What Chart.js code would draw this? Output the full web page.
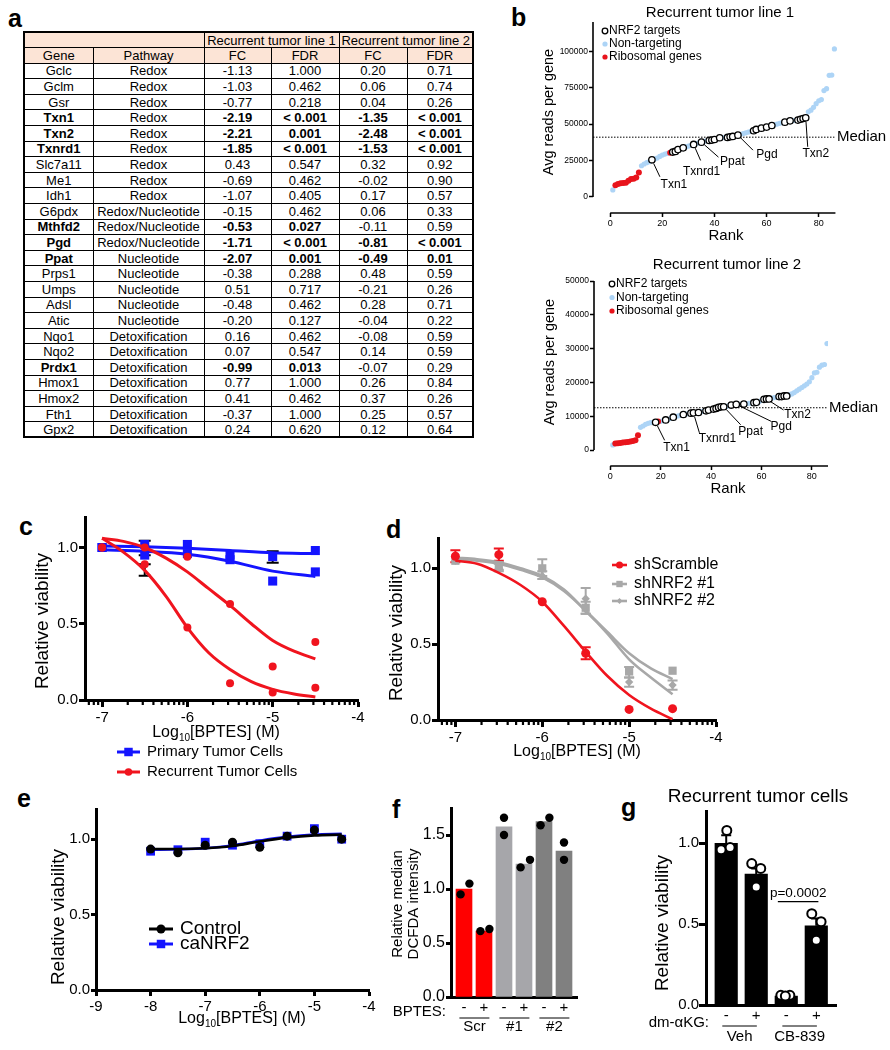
<!DOCTYPE html>
<html>
<head>
<meta charset="utf-8">
<script src="https://cdn.jsdelivr.net/npm/chart.js@4.4.1/dist/chart.umd.min.js"></script>
<style>
  body { margin: 0; background: #fff; font-family: "Liberation Sans", Arial, Helvetica, sans-serif; }
  #page { position: relative; width: 890px; height: 1050px; overflow: hidden; }
  .pl { position: absolute; font-weight: bold; font-size: 25px; line-height: 25px; }
  #tbl { position: absolute; left: 23px; top: 31px; border-collapse: collapse; table-layout: fixed; width: 449px; border: 2px solid #000; font-size: 13px; }
  #tbl tr { height: 15.6px; }
  #tbl td { border: 1px solid #000; padding: 0; line-height: 13px; text-align: center; white-space: nowrap; overflow: hidden; }
  #tbl tr.h td { background: #fce4d6; }
</style>
</head>
<body>
<div id="page">
  <table id="tbl"></table>
  <div class="pl" style="left:8px;top:6px">a</div>
  <div class="pl" style="left:511px;top:5px">b</div>
  <div class="pl" style="left:19px;top:514px">c</div>
  <div class="pl" style="left:386px;top:517px">d</div>
  <div class="pl" style="left:17px;top:786px">e</div>
  <div class="pl" style="left:392px;top:797px">f</div>
  <div class="pl" style="left:621px;top:795px">g</div>
</div>
<script>
// ---------- a: table ----------
const genes = ['Gclc','Gclm','Gsr','Txn1','Txn2','Txnrd1','Slc7a11','Me1','Idh1','G6pdx','Mthfd2','Pgd','Ppat','Prps1','Umps','Adsl','Atic','Nqo1','Nqo2','Prdx1','Hmox1','Hmox2','Fth1','Gpx2'];
const pathways = ['Redox','Redox','Redox','Redox','Redox','Redox','Redox','Redox','Redox','Redox/Nucleotide','Redox/Nucleotide','Redox/Nucleotide','Nucleotide','Nucleotide','Nucleotide','Nucleotide','Nucleotide','Detoxification','Detoxification','Detoxification','Detoxification','Detoxification','Detoxification','Detoxification'];
const fc1 = ['-1.13','-1.03','-0.77','-2.19','-2.21','-1.85','0.43','-0.69','-1.07','-0.15','-0.53','-1.71','-2.07','-0.38','0.51','-0.48','-0.20','0.16','0.07','-0.99','0.77','0.41','-0.37','0.24'];
const fdr1 = ['1.000','0.462','0.218','< 0.001','0.001','< 0.001','0.547','0.462','0.405','0.462','0.027','< 0.001','0.001','0.288','0.717','0.462','0.127','0.462','0.547','0.013','1.000','0.462','1.000','0.620'];
const fc2 = ['0.20','0.06','0.04','-1.35','-2.48','-1.53','0.32','-0.02','0.17','0.06','-0.11','-0.81','-0.49','0.48','-0.21','0.28','-0.04','-0.08','0.14','-0.07','0.26','0.37','0.25','0.12'];
const fdr2 = ['0.71','0.74','0.26','< 0.001','< 0.001','< 0.001','0.92','0.90','0.57','0.33','0.59','< 0.001','0.01','0.59','0.26','0.71','0.22','0.59','0.59','0.29','0.84','0.26','0.57','0.64'];
const sigLine1 = ['Txn1','Txn2','Txnrd1','Mthfd2','Pgd','Ppat','Prdx1'];
const sigLine2 = ['Txn1','Txn2','Txnrd1','Pgd','Ppat'];

// ---------- b: screen rank plots ----------
const b1NrfRank = [16,24,25,26,28,32,35,38,39,40,42,45,46,47,49,55,56,58,60,62,67,69,72,73,74,75];
const b1NrfVal = [25500,30800,31200,32500,33700,36000,37600,38800,39000,39400,40600,40800,41300,41500,42400,45400,46300,47200,47900,49000,51300,52200,52700,53300,53800,54300];
const b1RiboRank = [2,3,4,5,6,7,8,9,10,11,23];
const b1RiboVal = [8000,8900,9350,9600,9800,11200,12300,12500,13400,16700,30300];
const b1NtRank = [1,12,13,14,15,17,18,19,20,21,22,27,29,30,31,33,34,36,37,41,43,44,48,50,51,52,53,54,57,59,61,63,64,65,66,68,70,71,76,77,78,79,80,81,82,83,84,85,86];
const b1NtVal = [4800,21400,22600,23500,24200,26000,26700,27800,28700,29400,29900,33000,34300,34900,35500,36600,37100,38200,38500,40000,40700,40750,42000,43000,43500,44000,44500,45000,46700,47500,48600,49500,50000,50500,51000,51800,52400,52600,58400,59500,61500,64000,66000,66800,73000,74300,83400,83600,101500];
const b1Median = 41000;
const b1LabelNames = ['Txn1','Txnrd1','Ppat','Pgd','Txn2'];
const b1LabelRanks = [16,32,35,49,75];

const b2NrfRank = [18,22,25,29,32,33,35,38,39,41,42,43,44,45,48,50,53,57,58,61,62,63,67,68,69,70];
const b2NrfVal = [8200,8900,9700,10500,10900,11000,11100,11600,11800,12100,12300,12600,12800,12800,13300,13500,13600,14000,14100,15000,15100,15100,15800,15800,16000,16000];
const b2RiboRank = [2,3,4,5,6,7,8,9,10,11,19];
const b2RiboVal = [1900,2000,2100,2200,2300,2400,2500,2700,2900,4400,8400];
const b2NtRank = [1,12,13,14,15,16,17,20,21,23,24,26,27,28,30,31,34,36,37,40,46,47,49,51,52,54,55,56,59,60,64,65,66,71,72,73,74,75,76,77,78,79,80,81,82,83,84,85,86];
const b2NtVal = [1500,6700,7100,7600,7900,8100,8150,8500,8700,9100,9400,9900,10100,10300,10600,10800,11050,11300,11500,11900,12900,13100,13400,13500,13550,13700,13800,13900,14300,14700,15300,15500,15600,16300,16600,17000,17500,18000,18500,19000,19500,20200,21400,22800,23000,24500,25100,25300,31500];
const b2Median = 12500;
const b2LabelNames = ['Txn1','Txnrd1','Ppat','Pgd','Txn2'];
const b2LabelRanks = [18,33,45,50,62];

const rankTicks = [0,20,40,60,80];
const b1Ticks = [0,25000,50000,75000,100000];
const b2Ticks = [0,10000,20000,30000,40000,50000];

// ---------- c / d / e: dose response ----------
const doseX = [-7,-6.5,-6,-5.5,-5,-4.5];
const fitX = [-7,-6.75,-6.5,-6.25,-6,-5.75,-5.5,-5.25,-5,-4.75,-4.5];

const cPrimA = [1.00,1.02,1.02,0.95,0.94,0.98];
const cPrimALo = [null,0.95,null,null,0.90,null];
const cPrimAHi = [null,1.045,null,null,0.975,null];
const cPrimB = [1.00,0.95,0.96,0.92,0.78,0.84];
const cRecA = [1.00,0.89,0.475,0.11,0.05,0.08];
const cRecALo = [null,0.815,null,null,null,null];
const cRecAHi = [null,0.89,null,null,null,null];
const cRecB = [1.00,1.00,0.94,0.63,0.22,0.38];
const cFitPrimA = [1.01,1.005,0.995,0.98,0.965,0.96];
const cFitPrimB = [0.985,0.975,0.955,0.91,0.845,0.81];
const cFitRecA = [1.06,0.97,0.85,0.68,0.475,0.31,0.20,0.12,0.07,0.04,0.02];
const cFitRecB = [1.06,1.04,1.00,0.93,0.84,0.73,0.62,0.50,0.39,0.32,0.27];

const dScr = [1.08,1.09,0.78,0.44,0.07,0.075];
const dScrLo = [1.04,1.05,null,0.40,null,null];
const dScrHi = [1.12,1.13,null,0.48,null,null];
const dSh1 = [1.05,1.02,1.00,0.74,0.32,0.325];
const dSh1Lo = [null,0.99,0.95,0.70,0.28,null];
const dSh1Hi = [null,1.04,1.06,0.78,0.35,null];
const dSh2 = [1.05,1.00,0.95,0.80,0.25,0.23];
const dSh2Lo = [null,0.98,0.93,0.70,0.22,0.20];
const dSh2Hi = [null,1.03,0.98,0.87,0.28,0.26];
const dFitScr = [1.05,1.03,0.97,0.89,0.78,0.62,0.45,0.29,0.165,0.075,0.005];
const dFitSh1 = [1.07,1.06,1.04,1.00,0.95,0.86,0.72,0.58,0.44,0.34,0.27];
const dFitSh2 = [1.06,1.05,1.03,0.99,0.94,0.85,0.72,0.57,0.40,0.28,0.17];

const eX = [-8,-7.5,-7,-6.5,-6,-5.5,-5,-4.5];
const eCtrl = [0.934,0.91,0.96,0.98,0.946,1.02,1.06,1.00];
const eCa = [0.92,0.93,0.98,0.96,0.97,1.02,1.07,1.00];
const eFitCtrl = [0.935,0.935,0.94,0.955,0.985,1.01,1.025,1.03];
const eFitCa = [0.93,0.933,0.94,0.958,0.99,1.015,1.03,1.035];

const logTicksCD = [-7,-6,-5,-4];
const logTicksE = [-9,-8,-7,-6,-5,-4];
const viabTicks = [0,0.5,1.0];

// ---------- f: DCFDA ----------
const fSigns = ['-','+','-','+','-','+'];
const fGroups = ['Scr','#1','#2'];
const fBars = [1.00,0.61,1.575,1.23,1.625,1.35];
const fDotBar = [0,0,1,1,2,2,3,3,4,4,5,5];
const fDotVal = [0.95,1.05,0.61,0.63,1.66,1.50,1.20,1.27,1.59,1.66,1.43,1.27];
const fTicks = [0,0.5,1.0,1.5];

// ---------- g: dm-aKG rescue ----------
const gSigns = ['-','+','-','+'];
const gGroups = ['Veh','CB-839'];
const gBars = [1.00,0.81,0.055,0.49];
const gErrHi = [1.05,0.845,0.068,0.535];
const gDotBar = [0,0,0,1,1,1,2,2,2,3,3,3];
const gDotVal = [1.08,0.96,0.975,0.875,0.845,0.73,0.06,0.06,0.055,0.565,0.515,0.40];
const gPText = 'p=0.0002';

// ---------- styling ----------
const FONT = '"Liberation Sans", Arial, Helvetica, sans-serif';
const BLUE = '#1414ff', RED = '#f0141e', GRAY = '#a8a8a8';
const NT_BLUE = '#add4f6', RIBO_RED = '#e8141c';
const F_COLORS = ['#ff0000','#ff0000','#a6a6aa','#a6a6aa','#808080','#808080'];
const fJitter = [-0.17,0.27,-0.18,0.27,0,0,-0.17,0.3,-0.17,0.27,0,0];
const gJitter = [0.02,-0.17,0.13,-0.15,0.15,0,-0.18,0.12,-0.03,-0.15,0.16,0];

Chart.defaults.font.family = FONT;
Chart.defaults.color = '#000';
Chart.defaults.animation = false;
Chart.defaults.events = [];
Chart.defaults.plugins.legend.display = false;
Chart.defaults.plugins.tooltip.enabled = false;

// build table
(function () {
  const esc = s => s.replace(/</g, '&lt;');
  const B = (s, on) => on ? '<b>' + esc(s) + '</b>' : esc(s);
  let html = '<colgroup>' + [69,111,67,68,68,66].map(w => '<col style="width:' + w + 'px">').join('') + '</colgroup>';
  html += '<tr class="h"><td colspan="2"></td><td colspan="2">Recurrent tumor line 1</td><td colspan="2">Recurrent tumor line 2</td></tr>';
  html += '<tr class="h"><td>Gene</td><td>Pathway</td><td>FC</td><td>FDR</td><td>FC</td><td>FDR</td></tr>';
  genes.forEach((g, i) => {
    const s1 = sigLine1.includes(g), s2 = sigLine2.includes(g);
    html += '<tr><td>' + B(g, s1) + '</td><td>' + pathways[i] + '</td><td>' + B(fc1[i], s1) + '</td><td>' + B(fdr1[i], s1) +
      '</td><td>' + B(fc2[i], s2) + '</td><td>' + B(fdr2[i], s2) + '</td></tr>';
  });
  document.getElementById('tbl').innerHTML = html;
})();

// ---------- helpers ----------
const pts = (xs, ys) => xs.map((x, i) => ({ x: x, y: ys[i] }));

function txt(ctx, s, x, y, size, o) {
  o = o || {};
  ctx.save();
  ctx.font = (o.bold ? 'bold ' : '') + size + 'px ' + FONT;
  ctx.fillStyle = '#000';
  ctx.textAlign = o.align || 'center';
  ctx.textBaseline = 'middle';
  ctx.translate(x, y);
  if (o.rot) ctx.rotate(o.rot);
  ctx.fillText(s, 0, 0);
  ctx.restore();
}

function logLabel(ctx, cx, cy, size) {
  const main = size + 'px ' + FONT, sub = Math.round(size * 0.62) + 'px ' + FONT;
  ctx.save();
  ctx.fillStyle = '#000';
  ctx.textAlign = 'left';
  ctx.textBaseline = 'alphabetic';
  ctx.font = main;
  const w1 = ctx.measureText('Log').width, w3 = ctx.measureText('[BPTES] (M)').width;
  ctx.font = sub;
  const w2 = ctx.measureText('10').width;
  let x = cx - (w1 + w2 + w3) / 2;
  const base = cy + size * 0.36;
  ctx.font = main; ctx.fillText('Log', x, base); x += w1;
  ctx.font = sub; ctx.fillText('10', x, base + size * 0.25); x += w2;
  ctx.font = main; ctx.fillText('[BPTES] (M)', x, base);
  ctx.restore();
}

function mark(ctx, style, x, y, r, fill, stroke, lw) {
  ctx.save();
  ctx.beginPath();
  if (style === 'rect') {
    const s = r * Math.SQRT1_2;
    ctx.rect(x - s, y - s, 2 * s, 2 * s);
  } else if (style === 'rectRot') {
    ctx.moveTo(x, y - r); ctx.lineTo(x + r, y); ctx.lineTo(x, y + r); ctx.lineTo(x - r, y); ctx.closePath();
  } else {
    ctx.arc(x, y, r, 0, Math.PI * 2);
  }
  if (fill) { ctx.fillStyle = fill; ctx.fill(); }
  if (stroke) { ctx.strokeStyle = stroke; ctx.lineWidth = lw || 1; ctx.stroke(); }
  ctx.restore();
}

function seg(ctx, x1, y1, x2, y2, color, lw) {
  ctx.save();
  ctx.strokeStyle = color; ctx.lineWidth = lw;
  ctx.beginPath(); ctx.moveTo(x1, y1); ctx.lineTo(x2, y2); ctx.stroke();
  ctx.restore();
}

// legend row: line + marker + text
function legendRow(ctx, x1, x2, y, color, lw, style, r, text, size) {
  seg(ctx, x1, y, x2, y, color, lw);
  mark(ctx, style, (x1 + x2) / 2, y, r, color);
  txt(ctx, text, x2 + 7, y, size, { align: 'left' });
}

// minor log ticks between decades
function minorLog(ctx, P, lo, hi) {
  for (let d = -9; d <= -4; d++) {
    for (let k = 2; k <= 9; k++) {
      const v = d + Math.log10(k);
      if (v <= lo || v >= hi) continue;
      seg(ctx, P.x(v), P.bottom, P.x(v), P.bottom + 5, '#000', 2.2);
    }
  }
}

function makeCanvas(box) {
  const c = document.createElement('canvas');
  c.width = box[2]; c.height = box[3];
  c.style.cssText = 'position:absolute;left:' + box[0] + 'px;top:' + box[1] + 'px;width:' + box[2] + 'px;height:' + box[3] + 'px';
  document.getElementById('page').appendChild(c);
  return c;
}

function linAxis(o) {
  return {
    type: 'linear', min: o.min, max: o.max, offset: false,
    afterBuildTicks: s => { s.ticks = o.ticks.map(v => ({ value: v })); },
    ticks: { autoSkip: false, maxRotation: 0, padding: o.pad, font: { size: o.font }, callback: o.fmt },
    grid: { offset: false, drawOnChartArea: false, drawTicks: o.tick > 0, tickLength: o.tick, tickWidth: o.tw || 2, tickColor: '#000' },
    border: { display: o.border > 0, width: o.border || 0, color: '#000' }
  };
}

// fixed chart area: box / area in page pixels
function frameOpts(box, area, yW, xH, xAx, yAx) {
  xAx.afterFit = s => { s.height = xH; };
  yAx.afterFit = s => { s.width = yW; };
  return {
    responsive: false,
    layout: { autoPadding: false, padding: { left: area[0] - box[0] - yW, top: area[1] - box[1], right: box[0] + box[2] - area[2], bottom: box[1] + box[3] - area[3] - xH } },
    scales: { x: xAx, y: yAx }
  };
}

function deco(box, draw) {
  return {
    id: 'deco',
    afterDraw(chart) {
      const ctx = chart.ctx, sx = chart.scales.x, sy = chart.scales.y, a = chart.chartArea;
      const P = {
        x: v => sx.getPixelForValue(v) + box[0], y: v => sy.getPixelForValue(v) + box[1],
        left: a.left + box[0], right: a.right + box[0], top: a.top + box[1], bottom: a.bottom + box[1]
      };
      ctx.save();
      ctx.translate(-box[0], -box[1]);
      draw(ctx, P);
      ctx.restore();
    }
  };
}

// error bars from dataset.errLo / errHi
const errorBars = {
  id: 'errorBars',
  beforeDatasetsDraw(chart) {
    const ctx = chart.ctx, sy = chart.scales.y;
    chart.data.datasets.forEach((ds, di) => {
      if (!ds.errHi) return;
      const meta = chart.getDatasetMeta(di);
      meta.data.forEach((el, i) => {
        const hi = ds.errHi[i];
        if (hi == null) return;
        const lo = ds.errLo ? ds.errLo[i] : null;
        const yT = sy.getPixelForValue(hi), yB = lo == null ? el.y : sy.getPixelForValue(lo);
        const c = ds.errCap || 5;
        ctx.save();
        ctx.strokeStyle = ds.errColor || '#000';
        ctx.lineWidth = ds.errWidth || 2;
        ctx.beginPath();
        ctx.moveTo(el.x, yT); ctx.lineTo(el.x, yB);
        ctx.moveTo(el.x - c, yT); ctx.lineTo(el.x + c, yT);
        if (lo != null) { ctx.moveTo(el.x - c, yB); ctx.lineTo(el.x + c, yB); }
        ctx.stroke();
        ctx.restore();
      });
    });
  }
};
Chart.register(errorBars);

// ---------- b panels ----------
function rankPanel(box, area, d) {
  const xAx = linAxis({ min: d.xMin, max: d.xMax, ticks: rankTicks, font: 9, tick: 4, tw: 1.5, border: 0, pad: 1, fmt: v => String(v) });
  const yAx = linAxis({ min: d.yMin, max: d.yMax, ticks: d.yTicks, font: 8.5, tick: 4, tw: 1.5, border: 0, pad: 1, fmt: v => String(v) });
  new Chart(makeCanvas(box), {
    type: 'scatter',
    data: {
      datasets: [
        { label: 'NRF2 targets', data: pts(d.nrfRank, d.nrfVal), pointRadius: 3.2, pointBackgroundColor: '#fff', pointBorderColor: '#000', pointBorderWidth: 1.3 },
        { label: 'Ribosomal genes', data: pts(d.riboRank, d.riboVal), pointRadius: 3, pointBackgroundColor: RIBO_RED, pointBorderWidth: 0 },
        { label: 'Non-targeting', data: pts(d.ntRank, d.ntVal), pointRadius: 2.6, pointBackgroundColor: NT_BLUE, pointBorderWidth: 0 },
        { label: 'Median', data: [{ x: d.xMin, y: d.median }, { x: 86, y: d.median }], showLine: true, borderColor: '#000', borderWidth: 1, borderDash: [1.5, 1.5], pointRadius: 0 }
      ]
    },
    options: frameOpts(box, area, 40, box[1] + box[3] - area[3], xAx, yAx),
    plugins: [deco(box, (ctx, P) => {
      // detached axes
      seg(ctx, P.x(0), P.bottom, P.x(86.4), P.bottom, '#000', 1.6);
      seg(ctx, P.left, P.y(0), P.left, P.y(d.yMax), '#000', 1.6);
      // gene call-outs
      d.labNames.forEach((name, i) => {
        const r = d.labRanks[i];
        const px = P.x(r), py = P.y(d.nrfVal[d.nrfRank.indexOf(r)]);
        const o = d.labOff[i];
        const len = Math.hypot(o[0], o[1]);
        seg(ctx, px + o[0] / len * 4, py + o[1] / len * 4, px + o[0], py + o[1], '#000', 1);
        txt(ctx, name, px + o[2], py + o[3], 12);
      });
      // legend
      const L = d.leg;
      mark(ctx, 'circle', L[0], L[1], 2.8, '#fff', '#000', 1.3);
      mark(ctx, 'circle', L[0], L[1] + L[2], 2.6, NT_BLUE);
      mark(ctx, 'circle', L[0], L[1] + 2 * L[2], 2.6, RIBO_RED);
      txt(ctx, 'NRF2 targets', L[0] + 4, L[1], 12, { align: 'left' });
      txt(ctx, 'Non-targeting', L[0] + 4, L[1] + L[2], 12, { align: 'left' });
      txt(ctx, 'Ribosomal genes', L[0] + 4, L[1] + 2 * L[2], 12, { align: 'left' });
      // titles
      txt(ctx, d.title, d.titlePos[0], d.titlePos[1], 15);
      txt(ctx, 'Avg reads per gene', d.yTitle[0], d.yTitle[1], 14.5, { rot: -Math.PI / 2 });
      txt(ctx, 'Rank', d.xTitle[0], d.xTitle[1], 15);
      txt(ctx, 'Median', P.right + d.medDx, P.y(d.median), 15, { align: 'left' });
    })]
  });
}

rankPanel([450, 0, 440, 250], [593, 22, 837, 213], {
  nrfRank: b1NrfRank, nrfVal: b1NrfVal, riboRank: b1RiboRank, riboVal: b1RiboVal, ntRank: b1NtRank, ntVal: b1NtVal,
  median: b1Median, labNames: b1LabelNames, labRanks: b1LabelRanks,
  labOff: [[8, 17, 22, 25], [7, 16, 8, 27], [17, 15, 31, 20], [15, 15, 29, 20], [2, 29, 10, 36]],
  xMin: -6.6, xMax: 87, yMin: -11000, yMax: 120000, yTicks: b1Ticks,
  leg: [605, 31, 13], title: 'Recurrent tumor line 1', titlePos: [720, 13], yTitle: [549, 112], xTitle: [726, 236], medDx: 0
});

rankPanel([450, 250, 440, 250], [594, 281, 828, 466], {
  nrfRank: b2NrfRank, nrfVal: b2NrfVal, riboRank: b2RiboRank, riboVal: b2RiboVal, ntRank: b2NtRank, ntVal: b2NtVal,
  median: b2Median, labNames: b2LabelNames, labRanks: b2LabelRanks,
  labOff: [[9, 18, 21, 25], [6, 20, 24, 26], [17, 18, 27, 25], [35, 17, 45, 22], [17, 11, 31, 16]],
  xMin: -6.45, xMax: 86.4, yMin: -4730, yMax: 50000, yTicks: b2Ticks,
  leg: [612, 284, 13.5], title: 'Recurrent tumor line 2', titlePos: [727, 265], yTitle: [550, 362], xTitle: [728, 489], medDx: 1
});

// ---------- c ----------
(function () {
  const box = [0, 500, 375, 290], area = [85, 517, 358, 700];
  const xAx = linAxis({ min: -7.2, max: -4, ticks: logTicksCD, font: 15, tick: 7, tw: 3, border: 3, pad: 2, fmt: v => String(v) });
  const yAx = linAxis({ min: 0, max: 1.2, ticks: viabTicks, font: 15, tick: 6, tw: 3, border: 3, pad: 1, fmt: v => v.toFixed(1) });
  const fit = (ys, xs, color) => ({ data: pts(xs, ys), showLine: true, borderColor: color, borderWidth: 3, pointRadius: 0, cubicInterpolationMode: 'monotone' });
  const dots = (ys, style, r, color, extra) => Object.assign({ data: pts(doseX, ys), pointStyle: style, pointRadius: r, pointBackgroundColor: color, pointBorderWidth: 0 }, extra || {});
  new Chart(makeCanvas(box), {
    type: 'scatter',
    data: {
      datasets: [
        fit(cFitRecA, fitX, RED), fit(cFitRecB, fitX, RED),
        dots(cRecA, 'circle', 4, RED, { errLo: cRecALo, errHi: cRecAHi, errColor: '#000', errCap: 6 }),
        dots(cRecB, 'circle', 4, RED),
        fit(cFitPrimA, doseX, BLUE), fit(cFitPrimB, doseX, BLUE),
        dots(cPrimA, 'rect', 6.4, BLUE, { errLo: cPrimALo, errHi: cPrimAHi, errColor: '#000', errCap: 6 }),
        dots(cPrimB, 'rect', 6.4, BLUE)
      ]
    },
    options: frameOpts(box, area, 36, 25, xAx, yAx),
    plugins: [deco(box, (ctx, P) => {
      minorLog(ctx, P, -7.2, -4);
      txt(ctx, 'Relative viability', 43, 621, 19, { rot: -Math.PI / 2 });
      logLabel(ctx, 216, 731, 16);
      legendRow(ctx, 117, 140, 752, BLUE, 3, 'rect', 6, 'Primary Tumor Cells', 15);
      legendRow(ctx, 117, 140, 772, RED, 3, 'circle', 3.8, 'Recurrent Tumor Cells', 15);
    })]
  });
})();

// ---------- d ----------
(function () {
  const box = [370, 500, 520, 270], area = [438, 538, 716, 720];
  const xAx = linAxis({ min: -7.2, max: -4, ticks: logTicksCD, font: 15, tick: 7, tw: 3, border: 3, pad: 2, fmt: v => String(v) });
  const yAx = linAxis({ min: 0, max: 1.2, ticks: viabTicks, font: 15, tick: 6, tw: 3, border: 3, pad: 1, fmt: v => v.toFixed(1) });
  const fit = (ys, color) => ({ data: pts(fitX, ys), showLine: true, borderColor: color, borderWidth: 2.6, pointRadius: 0, cubicInterpolationMode: 'monotone' });
  const dots = (ys, lo, hi, style, r, color) => ({ data: pts(doseX, ys), pointStyle: style, pointRadius: r, pointBackgroundColor: color, pointBorderWidth: 0, errLo: lo, errHi: hi, errColor: color, errCap: 5 });
  new Chart(makeCanvas(box), {
    type: 'scatter',
    data: {
      datasets: [
        fit(dFitScr, RED), dots(dScr, dScrLo, dScrHi, 'circle', 4.5, RED),
        fit(dFitSh1, GRAY), fit(dFitSh2, GRAY),
        dots(dSh1, dSh1Lo, dSh1Hi, 'rect', 5.8, GRAY),
        dots(dSh2, dSh2Lo, dSh2Hi, 'rectRot', 4.2, GRAY)
      ]
    },
    options: frameOpts(box, area, 36, 25, xAx, yAx),
    plugins: [deco(box, (ctx, P) => {
      minorLog(ctx, P, -7.2, -4);
      txt(ctx, 'Relative viability', 397, 633, 19, { rot: -Math.PI / 2 });
      logLabel(ctx, 577, 750, 16);
      legendRow(ctx, 612, 627, 565, RED, 2.6, 'circle', 3.5, 'shScramble', 16);
      legendRow(ctx, 612, 627, 584, GRAY, 2.6, 'rect', 4.5, 'shNRF2 #1', 16);
      legendRow(ctx, 612, 627, 601, GRAY, 2.6, 'rectRot', 3, 'shNRF2 #2', 16);
    })]
  });
})();

// ---------- e ----------
(function () {
  const box = [0, 790, 380, 260], area = [96, 809, 369, 990];
  const xAx = linAxis({ min: -9, max: -4, ticks: logTicksE, font: 15, tick: 6, tw: 3, border: 3, pad: 2, fmt: v => String(v) });
  const yAx = linAxis({ min: 0, max: 1.2, ticks: viabTicks, font: 15, tick: 5, tw: 3, border: 3, pad: 1, fmt: v => v.toFixed(1) });
  const fit = (ys, color) => ({ data: pts(eX, ys), showLine: true, borderColor: color, borderWidth: 2.6, pointRadius: 0, cubicInterpolationMode: 'monotone' });
  new Chart(makeCanvas(box), {
    type: 'scatter',
    data: {
      datasets: [
        fit(eFitCtrl, '#000'),
        { data: pts(eX, eCtrl), pointStyle: 'circle', pointRadius: 4.5, pointBackgroundColor: '#000', pointBorderWidth: 0 },
        fit(eFitCa, BLUE),
        { data: pts(eX, eCa), pointStyle: 'rect', pointRadius: 6.2, pointBackgroundColor: BLUE, pointBorderWidth: 0 }
      ]
    },
    options: frameOpts(box, area, 36, 25, xAx, yAx),
    plugins: [deco(box, (ctx, P) => {
      txt(ctx, 'Relative viability', 59, 917, 19, { rot: -Math.PI / 2 });
      logLabel(ctx, 242, 1017, 16);
      legendRow(ctx, 149, 173, 929, '#000', 3, 'circle', 4.5, 'Control', 19);
      legendRow(ctx, 149, 173, 944, BLUE, 3, 'rect', 6, 'caNRF2', 19);
    })]
  });
})();

// ---------- f ----------
(function () {
  const box = [380, 790, 200, 260], area = [451, 808, 577, 997];
  const xAx = linAxis({ min: -0.65, max: 5.65, ticks: [0, 1, 2, 3, 4, 5], font: 15, tick: 0, border: 3, pad: 2, fmt: v => fSigns[v] });
  const yAx = linAxis({ min: 0, max: 1.75, ticks: fTicks, font: 16, tick: 5, tw: 3, border: 3, pad: 1, fmt: v => v.toFixed(1) });
  new Chart(makeCanvas(box), {
    type: 'bar',
    data: {
      datasets: [
        { type: 'scatter', data: fDotVal.map((v, i) => ({ x: fDotBar[i] + fJitter[i], y: v })), pointRadius: 4.2, pointBackgroundColor: '#000', pointBorderWidth: 0 },
        { type: 'bar', data: fBars.map((v, i) => ({ x: i, y: v })), backgroundColor: F_COLORS, borderWidth: 0, barThickness: 16 }
      ]
    },
    options: frameOpts(box, area, 32, 25, xAx, yAx),
    plugins: [deco(box, (ctx, P) => {
      txt(ctx, 'Relative median', 398, 904, 15, { rot: -Math.PI / 2 });
      txt(ctx, 'DCFDA intensity', 414, 904, 15, { rot: -Math.PI / 2 });
      txt(ctx, 'BPTES:', 446, 1012, 15, { align: 'right' });
      fGroups.forEach((g, k) => {
        const x1 = P.x(2 * k - 0.23), x2 = P.x(2 * k + 1.27);
        seg(ctx, x1, 1018, x2, 1018, '#000', 1);
        txt(ctx, g, (x1 + x2) / 2, 1027, 15);
      });
    })]
  });
})();

// ---------- g ----------
(function () {
  const box = [580, 780, 310, 270], area = [706, 811, 836, 1005];
  const xAx = linAxis({ min: -0.673, max: 3.657, ticks: [0, 1, 2, 3], font: 15, tick: 0, border: 3, pad: 2, fmt: v => gSigns[v] });
  const yAx = linAxis({ min: 0, max: 1.2, ticks: viabTicks, font: 15, tick: 7, tw: 3, border: 3, pad: 0, fmt: v => v.toFixed(1) });
  new Chart(makeCanvas(box), {
    type: 'bar',
    data: {
      datasets: [
        { type: 'scatter', data: gDotVal.map((v, i) => ({ x: gDotBar[i] + gJitter[i], y: v })), pointRadius: 4.5, pointBackgroundColor: '#fff', pointBorderColor: '#000', pointBorderWidth: 2 },
        { type: 'bar', data: gBars.map((v, i) => ({ x: i, y: v })), backgroundColor: '#000', borderWidth: 0, barThickness: 22.5, errHi: gErrHi, errColor: '#000', errCap: 5 }
      ]
    },
    options: frameOpts(box, area, 36, 25, xAx, yAx),
    plugins: [deco(box, (ctx, P) => {
      txt(ctx, 'Recurrent tumor cells', 758, 797, 19);
      txt(ctx, 'Relative viability', 663, 923, 19, { rot: -Math.PI / 2 });
      txt(ctx, 'dm-\u03b1KG:', 709, 1023, 15, { align: 'right' });
      gGroups.forEach((g, k) => {
        const x1 = P.x(2 * k - 0.13), x2 = P.x(2 * k + 1.02);
        seg(ctx, x1, 1026, x2, 1026, '#000', 1);
        txt(ctx, g, (x1 + x2) / 2, 1037, 15);
      });
      const yb = P.y(0.64);
      seg(ctx, P.x(1.72), yb, P.x(3.07), yb, '#000', 1.2);
      txt(ctx, gPText, P.x(2.4), yb - 8, 13.5);
    })]
  });
})();
</script>
</body>
</html>
